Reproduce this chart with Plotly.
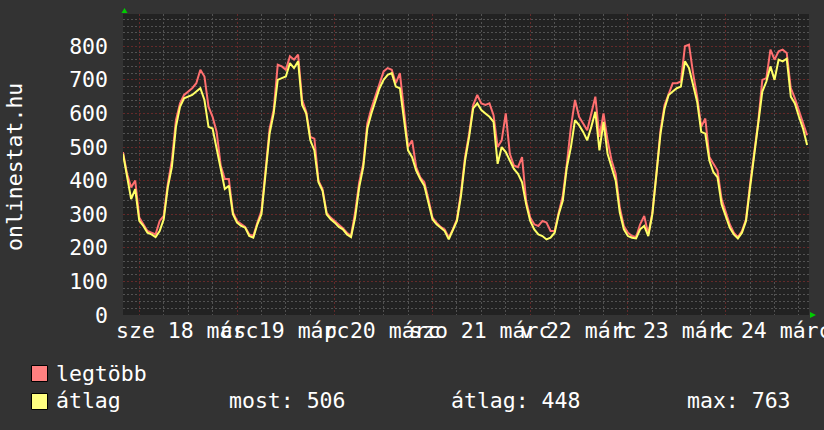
import plotly.graph_objects as go
import pandas as pd

# ---------------- data (hourly) ----------------
start_time = "2015-03-17 20:00"
n_points = 169

avg_values = [
    480, 410, 345, 375,
    280, 265, 245, 240, 232, 250, 285, 380, 440, 560,
    620, 645, 650, 655, 665, 675, 640, 560, 555, 495,
    430, 375, 385, 300, 275, 265, 260, 235, 230, 270,
    300, 420, 540, 600, 700, 705, 710, 750, 735, 755,
    625, 600, 520, 490, 395, 370, 300, 285, 275, 262,
    255, 240, 232, 290, 380, 440, 555, 600, 640, 675,
    700, 715, 720, 680, 675, 590, 490, 470, 430, 405,
    385, 335, 285, 270, 260, 250, 225, 250, 280, 355,
    460, 530, 615, 630, 610, 600, 590, 575, 450, 500,
    485, 460, 435, 420, 395, 330, 280, 255, 240, 235,
    225, 230, 245, 300, 340, 440, 500, 580, 565, 545,
    520, 560, 605, 490, 575, 480, 440, 400, 305, 255,
    235, 230, 228, 255, 265, 235, 300, 410, 540, 615,
    655, 665, 675, 680, 755, 735, 680, 635, 545, 540,
    460, 425, 410, 330, 295, 260, 240, 228, 245, 280,
    380, 470, 560, 665, 695, 740, 700, 760, 755, 763,
    650, 630, 590, 555, 506,
]

max_values = [
    485, 420, 380, 400,
    290, 270, 250, 245, 240, 280, 295, 390, 460, 580,
    630, 655, 665, 675, 690, 730, 710, 620, 590, 545,
    445, 405, 405, 305, 280, 270, 262, 240, 235, 275,
    310, 430, 555, 610, 745, 740, 730, 770, 760, 775,
    640, 605, 530, 525, 400, 375, 305, 290, 280, 268,
    258, 245, 236, 305, 395, 450, 570, 615, 650, 685,
    725, 735, 730, 690, 720, 610, 500, 520, 440, 410,
    395, 345, 290, 275, 262, 255, 230, 255, 285, 365,
    470, 540, 625, 655, 630, 625, 630, 595, 500, 520,
    600, 480, 445, 440, 470, 340, 290, 270, 265, 280,
    275, 250, 250, 305, 355, 450, 560, 640, 590, 570,
    550, 600, 650, 530, 600, 520, 460, 420, 320, 265,
    245, 235, 232, 270, 295, 240, 305, 420, 550, 625,
    660, 690, 690, 695, 800, 805, 720, 650, 560, 585,
    470, 450, 430, 345, 305, 270, 245, 232, 250, 285,
    390, 480, 575, 700, 705, 790, 760, 785, 790, 780,
    675, 645, 610, 575, 535,
]

series_names = ["legtöbb", "átlag"]
y_tick_values = [0, 100, 200, 300, 400, 500, 600, 700, 800]
# x labels as rrdtool drew them: one label per day, centred at noon (they overlap)
x_label_times = ["2015-03-18 12:00", "2015-03-19 12:00", "2015-03-20 12:00",
                 "2015-03-21 12:00", "2015-03-22 12:00", "2015-03-23 12:00",
                 "2015-03-24 12:00"]
x_labels = ["sze 18 márc", "cs 19 márc", "p 20 márc", "szo 21 márc",
            "v 22 márc", "h 23 márc", "k 24 márc"]
stat_labels = ["most: 506", "átlag: 448", "max: 763"]
y_title = "onlinestat.hu"

# ---------------- layout constants ----------------
W, H = 824, 430
PL, PR, PT, PB = 123, 809, 14, 315  # plot area in pixels
FONT = "DejaVu Sans Mono"
FS = 21.5
TXT = "#ffffff"
PINK = "#ff6f6f"
YELLOW = "#ffff66"
MAJOR = "#642a2a"
MINOR = "#525252"

times = pd.date_range(start_time, periods=n_points, freq="h")


def px(x):
    return (x - PL) / (PR - PL)


def py(y):
    return (PB - y) / (PB - PT)


fig = go.Figure()
fig.add_trace(go.Scatter(x=times, y=max_values, mode="lines", name=series_names[0],
                         line=dict(color=PINK, width=2)))
fig.add_trace(go.Scatter(x=times, y=avg_values, mode="lines", name=series_names[1],
                         line=dict(color=YELLOW, width=2)))

fig.update_layout(
    width=W, height=H,
    margin=dict(l=PL, r=W - PR, t=PT, b=H - PB, pad=0),
    paper_bgcolor="#333333",
    plot_bgcolor="#222222",
    showlegend=False,
    font=dict(family=FONT, size=FS, color=TXT),
)

fig.update_xaxes(
    type="date",
    range=["2015-03-17 20:00", "2015-03-24 20:28"],
    showticklabels=False,
    ticks="",
    showline=False,
    zeroline=False,
    tick0="2015-03-18 00:00",
    dtick=86400000,
    showgrid=True,
    gridcolor=MAJOR,
    griddash="2px,2px",
    gridwidth=1,
    minor=dict(dtick=6 * 3600000, tick0="2015-03-18 00:00", showgrid=True,
               gridcolor=MINOR, griddash="2px,2px", gridwidth=1),
)

fig.update_yaxes(
    range=[0, 896],
    tickvals=y_tick_values,
    ticktext=[str(v) for v in y_tick_values],
    tickfont=dict(family=FONT, size=FS, color=TXT),
    ticks="",
    ticklabelstandoff=14,
    showline=False,
    zeroline=False,
    showgrid=True,
    gridcolor=MAJOR,
    griddash="2px,2px",
    gridwidth=1,
    minor=dict(dtick=20, tick0=0, showgrid=True, gridcolor=MINOR,
               griddash="2px,2px", gridwidth=1),
)

annotations = []
# y axis title
annotations.append(dict(text=y_title, x=px(14), y=py(167), xref="paper", yref="paper",
                        textangle=-90, showarrow=False, xanchor="center", yanchor="middle",
                        font=dict(family=FONT, size=FS, color=TXT)))

# x axis labels, centred on each day's noon (overlapping like the original)
for lab, t in zip(x_labels, x_label_times):
    annotations.append(dict(text=lab, x=t, y=py(331), xref="x", yref="paper",
                            xshift=-1,
                            showarrow=False, xanchor="center", yanchor="middle",
                            font=dict(family=FONT, size=FS, color=TXT)))

# legend texts
annotations.append(dict(text=series_names[0], x=px(54), y=py(373), xref="paper", yref="paper",
                        showarrow=False, xanchor="left", yanchor="middle",
                        font=dict(family=FONT, size=FS, color=TXT)))
annotations.append(dict(text=series_names[1], x=px(54), y=py(401), xref="paper", yref="paper",
                        showarrow=False, xanchor="left", yanchor="middle",
                        font=dict(family=FONT, size=FS, color=TXT)))
for lab, xp in zip(stat_labels, [227, 449, 685]):
    annotations.append(dict(text=lab, x=px(xp), y=py(401), xref="paper", yref="paper",
                            showarrow=False, xanchor="left", yanchor="middle",
                            font=dict(family=FONT, size=FS, color=TXT)))

fig.update_layout(annotations=annotations)

shapes = []
# legend boxes
shapes.append(dict(type="rect", xref="paper", yref="paper",
                   x0=px(31.5), x1=px(47.5), y0=py(381.5), y1=py(365.5),
                   fillcolor="#ff8080", line=dict(color="#000000", width=1)))
shapes.append(dict(type="rect", xref="paper", yref="paper",
                   x0=px(31.5), x1=px(47.5), y0=py(409.5), y1=py(393.5),
                   fillcolor="#ffff80", line=dict(color="#000000", width=1)))
# green arrows
shapes.append(dict(type="path", xref="paper", yref="paper",
                   path=f"M {px(121.5)},{py(13)} L {px(127.5)},{py(13)} L {px(124.5)},{py(8)} Z",
                   fillcolor="#00cc00", line=dict(color="#00cc00", width=0)))
shapes.append(dict(type="path", xref="paper", yref="paper",
                   path=f"M {px(810)},{py(312)} L {px(810)},{py(318)} L {px(816)},{py(315)} Z",
                   fillcolor="#00cc00", line=dict(color="#00cc00", width=0)))
fig.update_layout(shapes=shapes)

fig.write_html(
    "out.html",
    config={"displayModeBar": False},
    post_script="document.body.style.margin='0px';document.body.style.background='#333333';",
)
